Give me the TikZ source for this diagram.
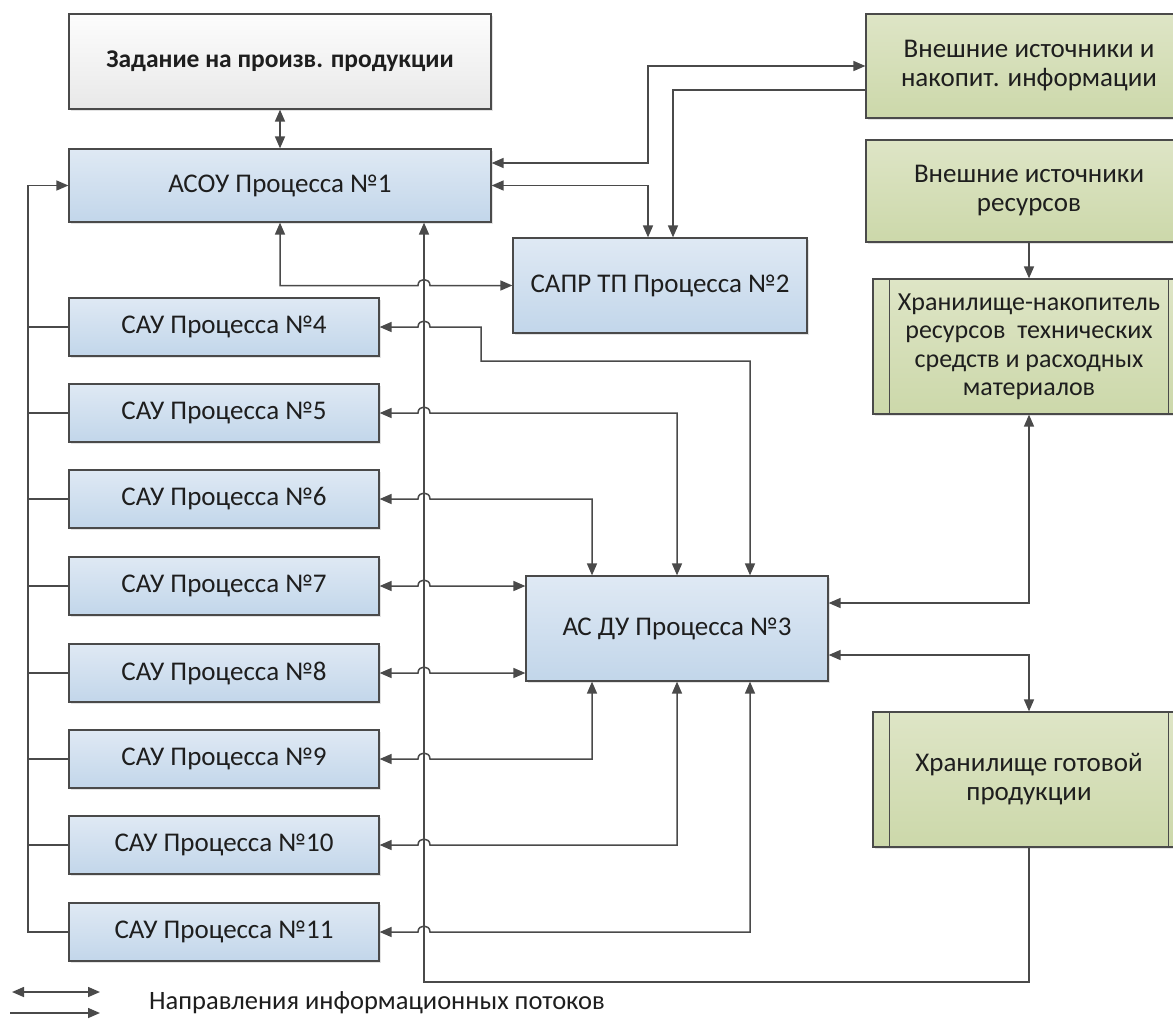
\documentclass[tikz,border=0pt]{standalone}
\usepackage{fontspec}
\setmainfont{Carlito}
\usetikzlibrary{arrows.meta,shadows,calc}
\definecolor{ln}{HTML}{4A4A4A}
\definecolor{txt}{HTML}{1E1E1E}
\definecolor{blueT}{HTML}{DFE9F4}
\definecolor{blueB}{HTML}{C2D6EA}
\definecolor{greenT}{HTML}{DEE5C6}
\definecolor{greenB}{HTML}{CCD8AA}
\definecolor{grayT}{HTML}{FDFDFD}
\definecolor{grayB}{HTML}{E8E8E8}
\newcommand\hop[1]{-- (418,#1) .. controls (418,#1-8) and (430,#1-8) .. (430,#1)}
\begin{document}
\begin{tikzpicture}[x=1pt,y=-1pt,
  >={Triangle[length=12pt,width=10pt]},
  base/.style={draw=ln, line width=1.2pt, inner sep=0pt, align=center, text=txt,
    font=\fontsize{27}{29}\selectfont,
    drop shadow={shadow xshift=1.5pt,shadow yshift=-1.5pt,opacity=0.22}},
  bluebox/.style={base, top color=blueT, bottom color=blueB},
  greenbox/.style={base, top color=greenT, bottom color=greenB},
  graybox/.style={base, top color=grayT, bottom color=grayB},
  conn/.style={draw=ln, line width=1.5pt}]
\useasboundingbox (0,0) rectangle (1173,1018);
\fill[white] (0,0) rectangle (1173,1018);

% boxes
\node[graybox, minimum width=422pt, minimum height=95pt, font=\fontsize{25.5}{29}\selectfont\bfseries] (zad) at (280,61.5) {Задание на произв. продукции};
\node[bluebox, minimum width=422pt, minimum height=73pt] (asou) at (280,185.5) {АСОУ Процесса №1};
\node[bluebox, minimum width=294pt, minimum height=95pt] (sapr) at (660,285.5) {САПР ТП Процесса №2};
\node[bluebox, minimum width=302pt, minimum height=105pt] (asdu) at (677,628.5) {АС ДУ Процесса №3};
\foreach \n/\y in {4/327,5/413,6/499,7/586,8/673,9/759,10/845,11/932}
  \node[bluebox, minimum width=310pt, minimum height=58pt] (s\n) at (224,\y) {САУ Процесса №\n};

\node[greenbox, minimum width=326pt, minimum height=104pt] (vinf) at (1029,66) {Внешние источники и\\накопит. информации};
\node[greenbox, minimum width=326pt, minimum height=102pt] (vres) at (1029,191) {Внешние источники\\ресурсов};
\node[greenbox, minimum width=312pt, minimum height=135pt, font=\fontsize{26}{28.5}\selectfont] (hnak) at (1029,346.5) {Хранилище-накопитель\\ресурсов~ технических\\средств и расходных\\материалов};
\node[greenbox, minimum width=312pt, minimum height=135pt] (hgot) at (1029,779.5) {Хранилище готовой\\продукции};
\foreach \b in {hnak,hgot}{
  \draw[ln, line width=1.2pt] ([xshift=17pt]\b.north west) -- ([xshift=17pt]\b.south west);
  \draw[ln, line width=1.2pt] ([xshift=-17pt]\b.north east) -- ([xshift=-17pt]\b.south east);
}

% coordinates
\coordinate (k1) at (648,66);
\coordinate (k2) at (673,90);
\coordinate (q1) at (280,285.5);
\coordinate (p4a) at (481,327);
\coordinate (p4b) at (750,361);
\coordinate (p5) at (677,413);
\coordinate (p6) at (592,499);
\coordinate (p9) at (592,759);
\coordinate (p10) at (677,845);
\coordinate (p11) at (750,932);
\coordinate (bus) at (28,932);
\coordinate (b1) at (424,982);

% long return line
\draw[conn,->] (hgot.south) |- (b1) -- (b1 |- asou.south);

% top connectors
\draw[conn,<->] (zad.south) -- (asou.north);
\draw[conn,<->] ([yshift=22.5pt]asou.east) -| (k1) -- (vinf.west);
\draw[conn,<->] (asou.east) -| (sapr.north -| k1);
\draw[conn,->] ([yshift=-24pt]vinf.west) -| (sapr.north -| k2);
\draw[conn,<->] (asou.south) -- (q1) \hop{285.5} -- (sapr.west);

% left bus
\draw[conn,->] (s11.west) -- (bus) |- (asou.west);
\foreach \n in {4,...,10}
  \draw[conn] (s\n.west) -- (s\n.west -| bus);

% SAU to AS DU
\draw[conn,<->] (s4.east) \hop{327} -- (p4a) |- (p4b) -- (p4b |- asdu.north);
\draw[conn,<->] (s5.east) \hop{413} -- (p5) -- (p5 |- asdu.north);
\draw[conn,<->] (s6.east) \hop{499} -- (p6) -- (p6 |- asdu.north);
\draw[conn,<->] (s7.east) \hop{586} -- (asdu.west |- s7.east);
\draw[conn,<->] (s8.east) \hop{673} -- (asdu.west |- s8.east);
\draw[conn,<->] (s9.east) \hop{759} -- (p9) -- (p9 |- asdu.south);
\draw[conn,<->] (s10.east) \hop{845} -- (p10) -- (p10 |- asdu.south);
\draw[conn,<->] (s11.east) \hop{932} -- (p11) -- (p11 |- asdu.south);

% right side
\draw[conn,->] (vres.south) -- (hnak.north);
\draw[conn,<->] (hnak.south) |- ([yshift=25.5pt]asdu.east);
\draw[conn,<->] ([yshift=-26.5pt]asdu.east) -| (hgot.north);

% legend
\coordinate (la1) at (12,992);
\coordinate (la2) at (100,992);
\coordinate (lb1) at (10,1013);
\coordinate (lb2) at (100,1013);
\draw[conn,<->] (la1) -- (la2);
\draw[conn,->] (lb1) -- (lb2);
\node[anchor=west, text=txt, font=\fontsize{26.5}{29}\selectfont, inner sep=0pt] (leg) at (149,1003) {Направления информационных потоков};
\end{tikzpicture}
\end{document}
